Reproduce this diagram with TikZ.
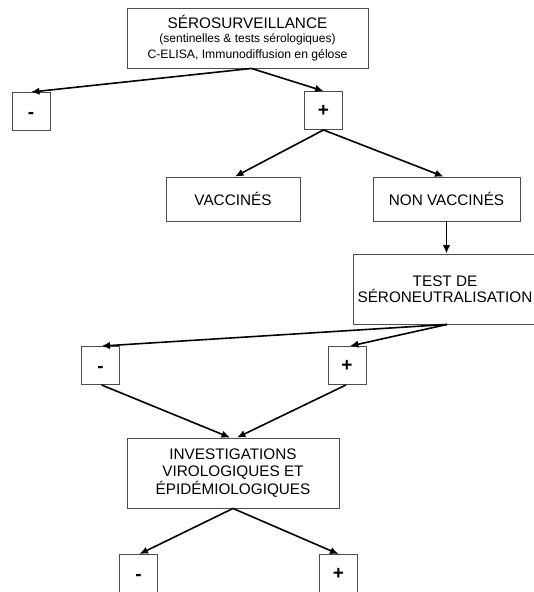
\documentclass[tikz,border=0pt]{standalone}
\usepackage{fontspec}
\setmainfont{Liberation Sans}
\usetikzlibrary{arrows.meta}
\newcommand{\minussign}{\vphantom{+}\smash{\raisebox{-1.5pt}{-}}}
\begin{document}
\begin{tikzpicture}[x=1pt,y=-1pt,
  box/.style={draw=black!70, line width=0.9pt, fill=white, align=center,
    inner sep=0pt, font=\fontsize{15.3}{17.5}\selectfont},
  signbox/.style={box, minimum width=38pt, minimum height=38pt,
    font=\fontsize{19}{20}\selectfont\bfseries},
  flow/.style={line width=1.6pt, -{Latex[length=8.5pt,width=7.5pt]}}]
\useasboundingbox (0,0) rectangle (534,592);
\clip (0,0) rectangle (534,592);
\fill[white] (0,0) rectangle (534,592);

% boxes
\node[box, minimum width=241pt, minimum height=60pt] (sero) at (247.5,38)
  {SÉROSURVEILLANCE\\[-3pt]
   {\fontsize{12}{14}\selectfont (sentinelles \& tests sérologiques)}\\[-2pt]
   {\fontsize{12.2}{14}\selectfont C-ELISA, Immunodiffusion en gélose}};
\node[signbox] (m1) at (31,111.5) {\minussign};
\node[signbox] (p1) at (323.5,110.5) {+};
\node[box, minimum width=134pt, minimum height=44pt] (vac) at (233,199) {VACCINÉS};
\node[box, minimum width=147pt, minimum height=44pt] (nvac) at (446.5,199) {NON VACCINÉS};
\node[box, minimum width=184pt, minimum height=70pt] (sn) at (445,289)
  {TEST DE\\[-1.5pt]SÉRONEUTRALISATION};
\node[signbox] (m2) at (100.5,365.5) {\minussign};
\node[signbox] (p2) at (347,365.5) {+};
\node[box, minimum width=212pt, minimum height=70pt] (inv) at (233,473)
  {INVESTIGATIONS\\VIROLOGIQUES ET\\ÉPIDÉMIOLOGIQUES};
\node[signbox] (m3) at (138.5,573.5) {\minussign};
\node[signbox] (p3) at (338.5,573.5) {+};

% connectors
\draw[flow] ([xshift=4pt]sero.south) -- (m1.north);
\draw[flow] ([xshift=4pt]sero.south) -- (p1.north);
\draw[flow] (p1.south) -- ([xshift=2pt]vac.north);
\draw[flow] (p1.south) -- ([xshift=-3pt]nvac.north);
\draw[flow] (nvac.south) -- (nvac.south |- sn.north);
\draw[flow] ([xshift=2pt]sn.south) -- ([xshift=1pt]m2.north);
\draw[flow] ([xshift=2pt]sn.south) -- ([xshift=3pt]p2.north);
\draw[flow] ([xshift=1pt]m2.south) -- ([xshift=-3pt]inv.north);
\draw[flow] ([xshift=-1pt]p2.south) -- ([xshift=4pt]inv.north);
\draw[flow] (inv.south) -- ([xshift=1pt]m3.north);
\draw[flow] (inv.south) -- (p3.north);
\end{tikzpicture}
\end{document}
